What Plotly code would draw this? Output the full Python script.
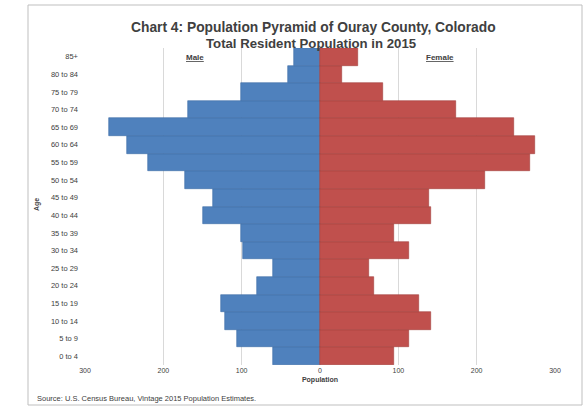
import plotly.graph_objects as go

ages = ["0 to 4", "5 to 9", "10 to 14", "15 to 19", "20 to 24", "25 to 29", "30 to 34",
        "35 to 39", "40 to 44", "45 to 49", "50 to 54", "55 to 59", "60 to 64", "65 to 69",
        "70 to 74", "75 to 79", "80 to 84", "85+"]
male = [60, 106, 121, 127, 80, 60, 98, 101, 149, 136, 172, 220, 247, 269, 169, 101, 41, 33]
female = [95, 113, 142, 127, 69, 63, 113, 94, 142, 139, 210, 268, 275, 248, 174, 81, 28, 49]
tick_vals = [-300, -200, -100, 0, 100, 200, 300]
tick_text = ["300", "200", "100", "0", "100", "200", "300"]

FONT = "Liberation Sans"
TXT = "#404040"

fig = go.Figure()
fig.add_trace(go.Bar(
    y=ages, x=[-v for v in male], orientation="h", name="Male",
    marker=dict(color="#4F81BD", line=dict(color="#3D6CA6", width=0.6)),
    customdata=male, hovertemplate="%{y}: %{customdata}<extra>Male</extra>"))
fig.add_trace(go.Bar(
    y=ages, x=female, orientation="h", name="Female",
    marker=dict(color="#C0504D", line=dict(color="#A33F3C", width=0.6)),
    hovertemplate="%{y}: %{x}<extra>Female</extra>"))

W, H = 585, 410
l, r, t, b = 85, 30, 48, 45
pw, ph = W - l - r, H - t - b

fig.update_layout(
    width=W, height=H,
    barmode="overlay", bargap=0.0,
    showlegend=False,
    plot_bgcolor="white", paper_bgcolor="white",
    margin=dict(l=l, r=r, t=t, b=b),
    font=dict(family=FONT, color=TXT, size=7),
    xaxis=dict(range=[-300, 300], tickvals=tick_vals, ticktext=tick_text,
               showgrid=True, gridcolor="#D9D9D9", gridwidth=1,
               zeroline=False, showline=False, ticks="",
               tickfont=dict(size=7, color=TXT),
               title=dict(text="<b>Population</b>", font=dict(size=7), standoff=4)),
    yaxis=dict(categoryorder="array", categoryarray=ages,
               showgrid=False, zeroline=False, showline=False, ticks="",
               ticklabelstandoff=6,
               tickfont=dict(size=7.5, color=TXT)),
)

def px_ann(text, x, y, size, bold=False, xanchor="center", angle=0):
    fig.add_annotation(text=("<b>%s</b>" % text) if bold else text,
                       x=(x - l) / pw, y=(H - y - b) / ph,
                       xref="paper", yref="paper", xanchor=xanchor, yanchor="middle",
                       showarrow=False, textangle=angle,
                       font=dict(family=FONT, size=size, color=TXT))

px_ann("Chart 4: Population Pyramid of Ouray County, Colorado", 313, 28, 13.8, bold=True)
px_ann("Total Resident Population in 2015", 311, 43, 13.2, bold=True)
px_ann("<u>Male</u>", 195, 57, 8, bold=True)
px_ann("<u>Female</u>", 440, 57, 8, bold=True)
px_ann("Age", 37, 205, 7, bold=True, angle=-90)
px_ann("Source: U.S. Census Bureau, Vintage 2015 Population Estimates.", 35, 398, 7.5,
       xanchor="left")

# outer chart border
fig.add_shape(type="rect", xref="paper", yref="paper",
              x0=(28 - l) / pw, x1=(582 - l) / pw,
              y0=(H - 405 - b) / ph, y1=(H - 5 - b) / ph,
              line=dict(color="#BFBFBF", width=1), layer="below")

fig.write_html("out.html", config={"displayModeBar": False},
               post_script="document.body.style.margin='0';document.body.style.padding='0';")
